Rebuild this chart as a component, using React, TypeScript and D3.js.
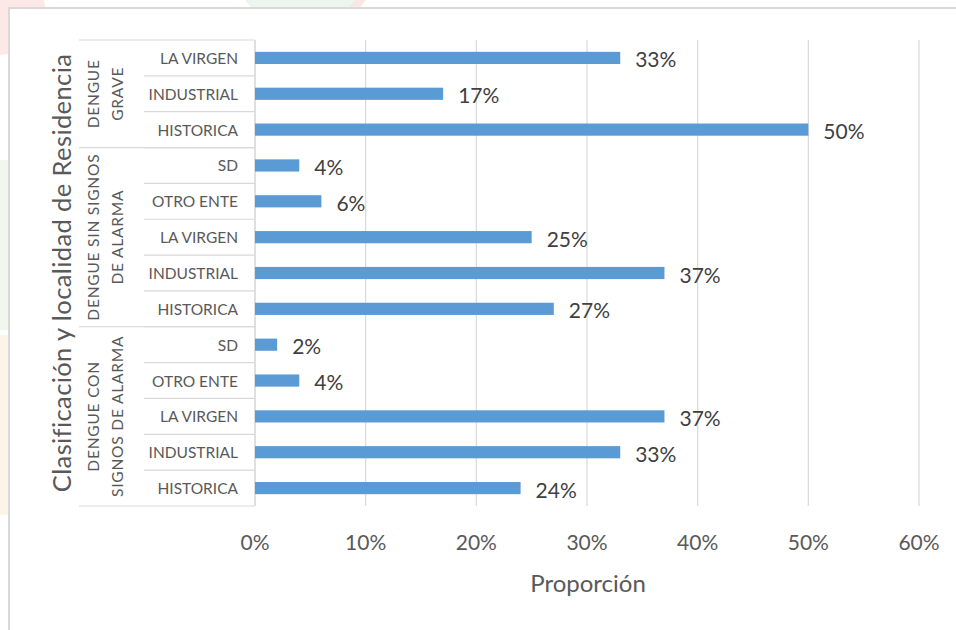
import * as d3 from 'd3';

// Data (percent)
const groups = ['DENGUE GRAVE', 'DENGUE SIN SIGNOS DE ALARMA', 'DENGUE CON SIGNOS DE ALARMA'];
const groupLines = [['DENGUE', 'GRAVE'], ['DENGUE SIN SIGNOS', 'DE ALARMA'], ['DENGUE CON', 'SIGNOS DE ALARMA']];
const graveLocs = ['LA VIRGEN', 'INDUSTRIAL', 'HISTORICA'];
const graveVals = [33, 17, 50];
const sinLocs = ['SD', 'OTRO ENTE', 'LA VIRGEN', 'INDUSTRIAL', 'HISTORICA'];
const sinVals = [4, 6, 25, 37, 27];
const conLocs = ['SD', 'OTRO ENTE', 'LA VIRGEN', 'INDUSTRIAL', 'HISTORICA'];
const conVals = [2, 4, 37, 33, 24];
const xTicks = [0, 10, 20, 30, 40, 50, 60];

const rows = [
  ...graveLocs.map((l, i) => ({ group: groups[0], loc: l, value: graveVals[i] })),
  ...sinLocs.map((l, i) => ({ group: groups[1], loc: l, value: sinVals[i] })),
  ...conLocs.map((l, i) => ({ group: groups[2], loc: l, value: conVals[i] })),
];

const font = 'Lato, Carlito, Calibri, sans-serif';

export default function App() {
  const left = 255, right = 919, top = 40, bottom = 506;

  const x = d3.scaleLinear().domain([0, 60]).range([left, right]);
  const y = d3.scaleBand<number>().domain(rows.map((_, i) => i)).range([top, bottom]).paddingInner(0.66).paddingOuter(0.33);
  const step = y.step();
  const rowTop = (i: number) => top + i * step;

  // group spans
  const spans = groups.map(g => {
    const idx = rows.map((r, i) => (r.group === g ? i : -1)).filter(i => i >= 0);
    return { g, start: idx[0], end: idx[idx.length - 1] + 1 };
  });

  return (
    <svg width={956} height={630} style={{ position: 'absolute', left: 0, top: 0 }}>
      {/* faint watermark behind the frame */}
      <rect x={0} y={0} width={956} height={630} fill="#fff" />
      <circle cx={0} cy={10} r={45} fill="#fce8e6" />
      <circle cx={306} cy={-40} r={72} fill="#fbe6e4" />
      <circle cx={300} cy={-40} r={68} fill="#edf6ee" />
      <rect x={0} y={160} width={9} height={170} fill="#f1f6ef" />
      <rect x={0} y={335} width={9} height={180} fill="#fdf4e8" />
      <rect x={9} y={8} width={960} height={640} fill="#fff" stroke="#d9d9d9" strokeWidth={2} />

      {/* gridlines */}
      {xTicks.map(t => (
        <line key={t} x1={x(t)} x2={x(t)} y1={top} y2={bottom} stroke="#d9d9d9" strokeWidth={1.2} />
      ))}

      {/* category table lines */}
      <line x1={x(0)} x2={x(0)} y1={top} y2={bottom} stroke="#d9d9d9" strokeWidth={1.2} />
      {rows.map((_, i) => (i === 0 ? null : (
        <line key={'r' + i} x1={144} x2={x(0)} y1={rowTop(i)} y2={rowTop(i)} stroke="#d9d9d9" strokeWidth={1.2} />
      )))}
      {spans.map((s, i) => (
        <line key={'g' + i} x1={79} x2={x(0)} y1={rowTop(s.start)} y2={rowTop(s.start)} stroke="#d9d9d9" strokeWidth={1.2} />
      ))}
      <line x1={79} x2={x(0)} y1={bottom} y2={bottom} stroke="#d9d9d9" strokeWidth={1.2} />

      {/* bars */}
      {rows.map((r, i) => (
        <rect key={'b' + i} x={x(0)} y={y(i)} width={x(r.value) - x(0)} height={y.bandwidth()} fill="#5b9bd5" />
      ))}

      {/* value labels */}
      {rows.map((r, i) => (
        <text key={'v' + i} x={x(r.value) + 15} y={(y(i) ?? 0) + y.bandwidth() / 2 + 1} dominantBaseline="central"
          fontFamily={font} fontSize={21} fill="#404040">{r.value}%</text>
      ))}

      {/* location labels */}
      {rows.map((r, i) => (
        <text key={'l' + i} x={238} y={rowTop(i) + step / 2} dominantBaseline="central" textAnchor="end"
          fontFamily={font} fontSize={15.5} fill="#595959">{r.loc}</text>
      ))}

      {/* group labels */}
      {spans.map((s, i) => {
        const cy = (rowTop(s.start) + rowTop(s.end)) / 2;
        return groupLines[i].map((line, j) => (
          <text key={'gl' + i + j} transform={`translate(${93 + j * 24},${cy}) rotate(-90)`} textAnchor="middle"
            dominantBaseline="central" fontFamily={font} fontSize={15.5} letterSpacing={0.8} fill="#595959">{line}</text>
        ));
      })}

      {/* x tick labels */}
      {xTicks.map(t => (
        <text key={'t' + t} x={x(t)} y={541} textAnchor="middle" dominantBaseline="central"
          fontFamily={font} fontSize={21} fill="#595959">{t}%</text>
      ))}

      {/* axis titles */}
      <text x={588} y={582} textAnchor="middle" dominantBaseline="central" fontFamily={font} fontSize={24} fill="#595959">Proporción</text>
      <text transform={`translate(61,${(top + bottom) / 2}) rotate(-90)`} textAnchor="middle" dominantBaseline="central"
        fontFamily={font} fontSize={25.5} letterSpacing={0.4} fill="#595959">Clasificación y localidad de Residencia</text>
    </svg>
  );
}
